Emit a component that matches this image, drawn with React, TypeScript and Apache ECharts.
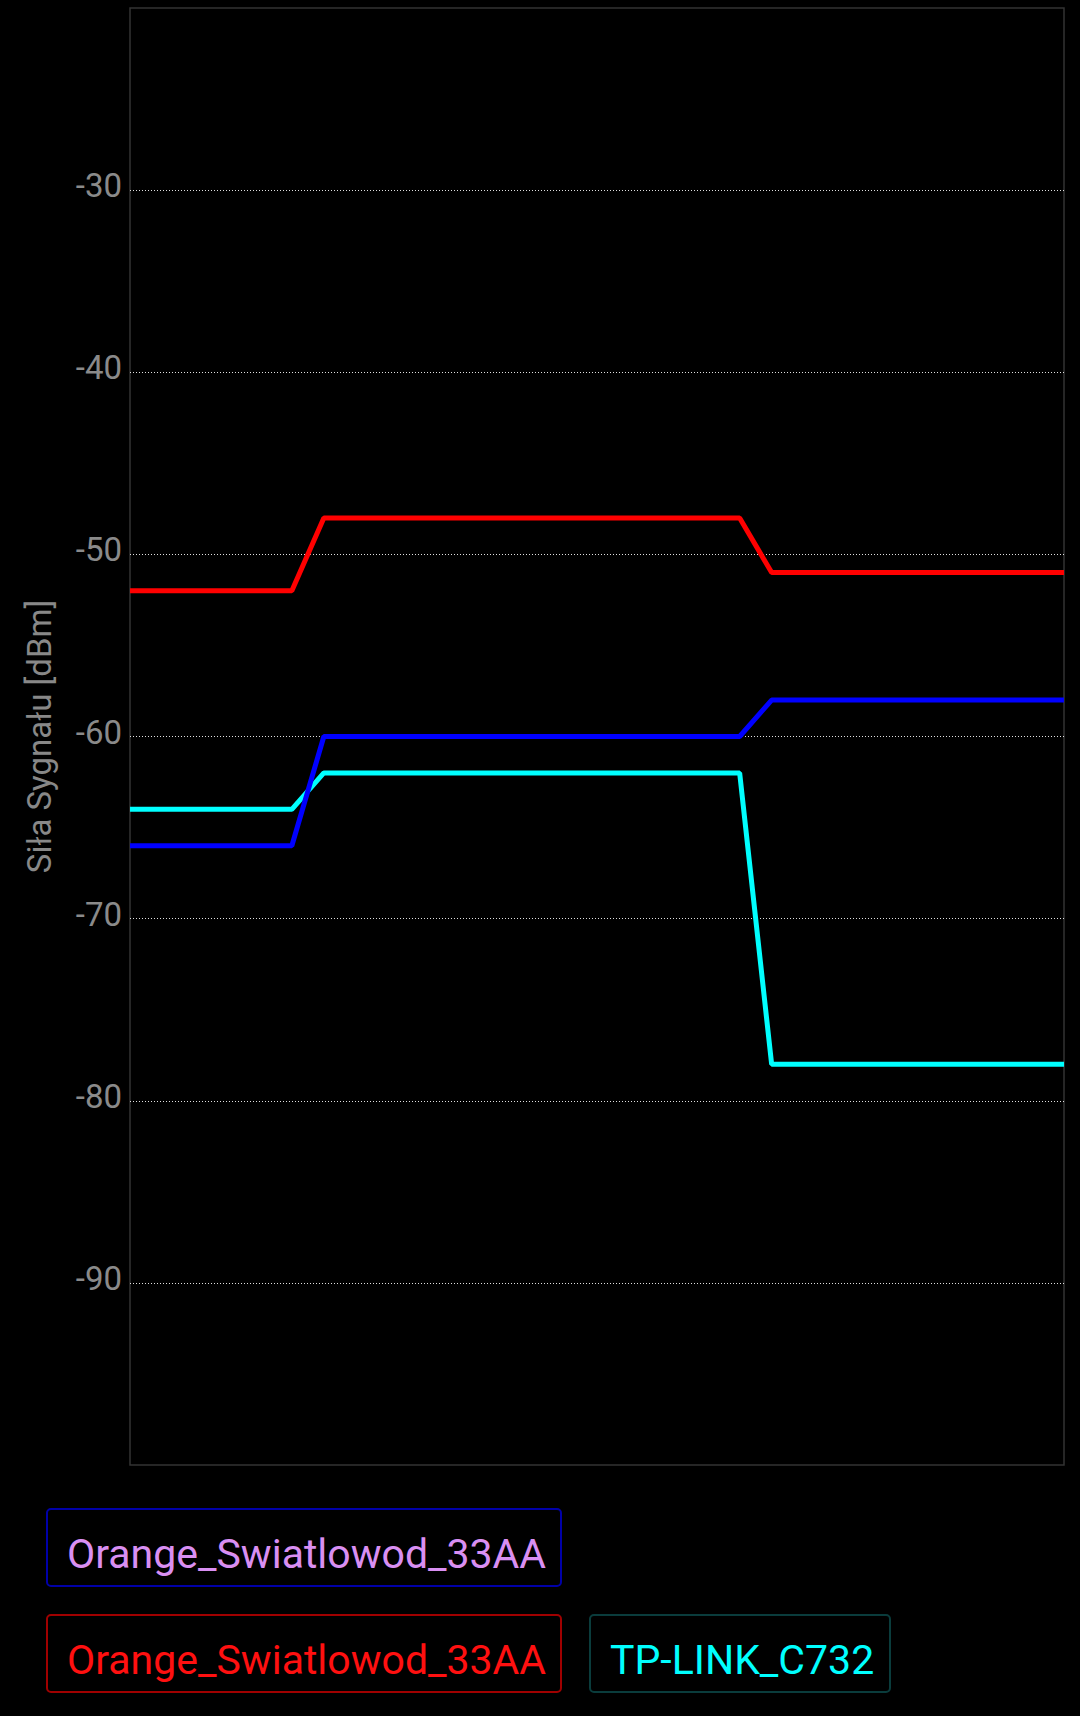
import { useRef, useEffect } from "react";
import * as echarts from "echarts";

// sample positions (seconds in view) and signal levels in dBm
const sampleX = [0, 5.06, 6.06, 19.06, 20.06, 29.2];
const orangeBlue = [-66, -66, -60, -60, -58, -58];
const orangeRed = [-52, -52, -48, -48, -51, -51];
const tpLink = [-64, -64, -62, -62, -78, -78];

const seriesNames = ["Orange_Swiatlowod_33AA", "Orange_Swiatlowod_33AA", "TP-LINK_C732"];
const lineColors = ["#0000ff", "#ff0000", "#00ffff"];

const yMin = -100;
const yMax = -20;
const yStep = 10;

const FONT = "Roboto, 'Noto Sans', sans-serif";

export default function App() {
  const chartRef = useRef<HTMLDivElement>(null);

  useEffect(() => {
    document.body.style.margin = "0";
    document.body.style.background = "#000";
    if (!chartRef.current) return;

    const chart = echarts.init(chartRef.current, undefined, { renderer: "svg" });

    const toPairs = (vals: number[]) => vals.map((v, i) => [sampleX[i], v]);

    // legend chips, drawn as boxes like the app does
    const chips = [
      { x: 47, y: 1509, w: 514, text: seriesNames[0], color: "#d98ff2", border: "#0000a8" },
      { x: 47, y: 1615, w: 514, text: seriesNames[1], color: "#ff1010", border: "#a00000" },
      { x: 590, y: 1615, w: 300, text: seriesNames[2], color: "#00ffff", border: "#0a3c3c" },
    ];

    chart.setOption({
      animation: false,
      backgroundColor: "#000",
      grid: {
        left: 130,
        top: 8,
        right: 16,
        bottom: 251,
        show: true,
        borderColor: "#333",
        borderWidth: 1.5,
      },
      xAxis: {
        type: "value",
        min: 0,
        max: sampleX[sampleX.length - 1],
        axisLine: { show: false },
        axisTick: { show: false },
        axisLabel: { show: false },
        splitLine: { show: false },
      },
      yAxis: {
        type: "value",
        min: yMin,
        max: yMax,
        interval: yStep,
        name: "Siła Sygnału [dBm]",
        nameLocation: "middle",
        nameGap: 74,
        nameTextStyle: { color: "#888", fontSize: 33, fontFamily: FONT },
        axisLine: { show: false },
        axisTick: { show: false },
        axisLabel: {
          showMinLabel: false,
          showMaxLabel: false,
          color: "#8a8a8a",
          fontSize: 33,
          fontFamily: FONT,
          margin: 8,
          verticalAlign: "bottom",
          lineHeight: 9,
        },
        splitLine: {
          show: true,
          showMinLine: false,
          showMaxLine: false,
          lineStyle: { color: "#e0e0e0", width: 1, type: [1, 2] },
        },
      },
      series: [orangeBlue, orangeRed, tpLink].map((vals, i) => ({
        name: seriesNames[i] + "#" + i,
        type: "line",
        data: toPairs(vals),
        symbol: "none",
        lineStyle: { color: lineColors[i], width: 5 },
        z: i === 0 ? 3 : 2,
      })),
      graphic: chips.flatMap((c) => [
        {
          type: "rect",
          shape: { x: c.x, y: c.y, width: c.w, height: 77, r: 4 },
          style: { fill: "transparent", stroke: c.border, lineWidth: 2 },
        },
        {
          type: "text",
          x: c.x + 20,
          y: c.y + 45,
          style: {
            text: c.text,
            fill: c.color,
            fontSize: 41,
            fontFamily: FONT,
            verticalAlign: "middle",
          },
        },
      ]),
    });

    return () => {
      chart.dispose();
    };
  }, []);

  return <div ref={chartRef} style={{ width: "1080px", height: "1716px" }} />;
}
